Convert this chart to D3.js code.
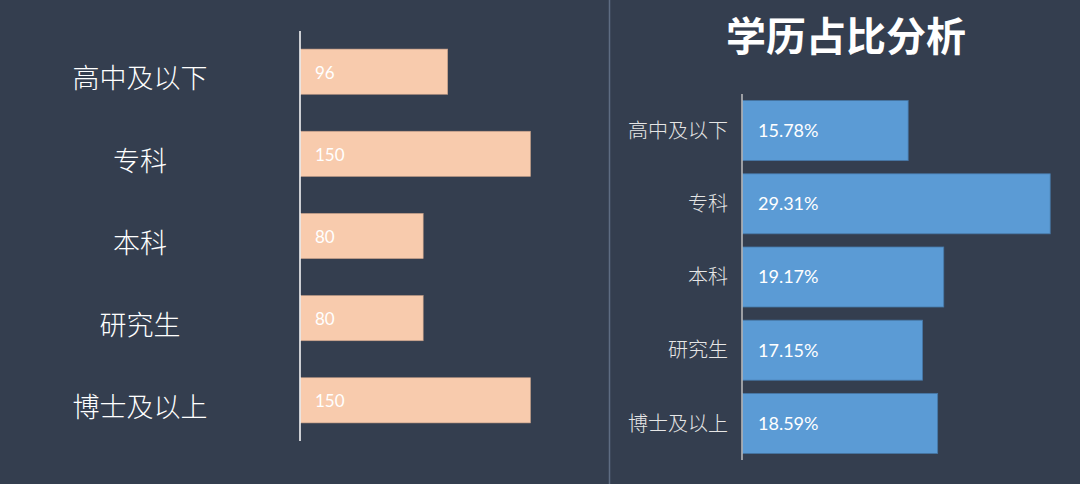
<!DOCTYPE html>
<html>
<head>
<meta charset="utf-8">
<script src="https://cdn.jsdelivr.net/npm/d3@7"></script>
<style>
  html, body { margin: 0; padding: 0; background: #343e4f; }
  svg { display: block; }
  text { font-family: Lato, "Noto Sans CJK SC", sans-serif; }
</style>
</head>
<body>
<div id="chart"></div>
<script>
// ── Data ─────────────────────────────────────────────────────────────────────
const categories = ['高中及以下', '专科', '本科', '研究生', '博士及以上'];
const counts     = [96, 150, 80, 80, 150];
const shares     = [15.78, 29.31, 19.17, 17.15, 18.59];
const titleText  = '学历占比分析';

const W = 1080, H = 484;

const svg = d3.select('#chart').append('svg')
  .attr('width', W)
  .attr('height', H);

svg.append('rect').attr('width', W).attr('height', H).attr('fill', '#343e4f');

// divider between the two panels
svg.append('line')
  .attr('x1', 609.5).attr('x2', 609.5)
  .attr('y1', 0).attr('y2', H)
  .attr('stroke', '#5e6c82')
  .attr('stroke-width', 1.5);

// ── Left panel: counts ───────────────────────────────────────────────────────

const yL = d3.scaleBand()
  .domain(categories)
  .range([31, 441])
  .paddingInner(0.45)
  .paddingOuter(0.22);

const xL = d3.scaleLinear()
  .domain([0, 150])
  .range([300, 530]);

const left = svg.append('g').attr('class', 'left-panel');

left.selectAll('rect.bar')
  .data(categories)
  .join('rect')
  .attr('class', 'bar')
  .attr('x', xL(0) + 0.5)
  .attr('y', d => yL(d))
  .attr('width', (d, i) => xL(counts[i]) - xL(0))
  .attr('height', yL.bandwidth())
  .attr('fill', '#f8cbad')
  .attr('stroke', '#c49e88')
  .attr('stroke-width', 0.6);

left.selectAll('text.val')
  .data(categories)
  .join('text')
  .attr('class', 'val')
  .attr('x', xL(0) + 15)
  .attr('y', d => yL(d) + yL.bandwidth() / 2 + 1)
  .attr('dy', '0.36em')
  .attr('fill', '#ffffff')
  .attr('font-size', 17)
  .text((d, i) => counts[i]);

left.selectAll('text.cat')
  .data(categories)
  .join('text')
  .attr('class', 'cat')
  .attr('x', 140)
  .attr('y', d => yL(d) + yL.bandwidth() / 2 + 7)
  .attr('dy', '0.36em')
  .attr('text-anchor', 'middle')
  .attr('fill', '#ffffff')
  .attr('font-family', '"Noto Sans CJK SC", sans-serif')
  .attr('font-weight', 300)
  .attr('font-size', 27)
  .text(d => d);

left.append('line')
  .attr('x1', xL(0)).attr('x2', xL(0))
  .attr('y1', 31).attr('y2', 441)
  .attr('stroke', '#ffffff')
  .attr('stroke-width', 1.5);

// ── Right panel: shares ──────────────────────────────────────────────────────

svg.append('text')
  .attr('x', 846)
  .attr('y', 37)
  .attr('dy', '0.36em')
  .attr('text-anchor', 'middle')
  .attr('fill', '#ffffff')
  .attr('font-family', '"Noto Sans CJK SC", sans-serif')
  .attr('font-weight', 'bold')
  .attr('font-size', 40)
  .text(titleText);

const yR = d3.scaleBand()
  .domain(categories)
  .range([94, 460])
  .paddingInner(0.18)
  .paddingOuter(0.09);

const xR = d3.scaleLinear()
  .domain([0, 29.31])
  .range([742, 1049.7]);

const right = svg.append('g').attr('class', 'right-panel');

right.selectAll('rect.bar')
  .data(categories)
  .join('rect')
  .attr('class', 'bar')
  .attr('x', xR(0) + 0.5)
  .attr('y', d => yR(d))
  .attr('width', (d, i) => xR(shares[i]) - xR(0))
  .attr('height', yR.bandwidth())
  .attr('fill', '#5b9bd5')
  .attr('stroke', '#4677a6')
  .attr('stroke-width', 0.8);

right.selectAll('text.val')
  .data(categories)
  .join('text')
  .attr('class', 'val')
  .attr('x', xR(0) + 16)
  .attr('y', d => yR(d) + yR.bandwidth() / 2)
  .attr('dy', '0.36em')
  .attr('fill', '#ffffff')
  .attr('font-size', 18)
  .text((d, i) => shares[i].toFixed(2) + '%');

right.selectAll('text.cat')
  .data(categories)
  .join('text')
  .attr('class', 'cat')
  .attr('x', 728)
  .attr('y', d => yR(d) + yR.bandwidth() / 2)
  .attr('dy', '0.36em')
  .attr('text-anchor', 'end')
  .attr('fill', '#e6e6e6')
  .attr('font-family', '"Noto Sans CJK SC", sans-serif')
  .attr('font-weight', 300)
  .attr('font-size', 20)
  .text(d => d);

right.append('line')
  .attr('x1', xR(0)).attr('x2', xR(0))
  .attr('y1', 94).attr('y2', 460)
  .attr('stroke', '#bfbfbf')
  .attr('stroke-width', 1.5);
</script>
</body>
</html>
